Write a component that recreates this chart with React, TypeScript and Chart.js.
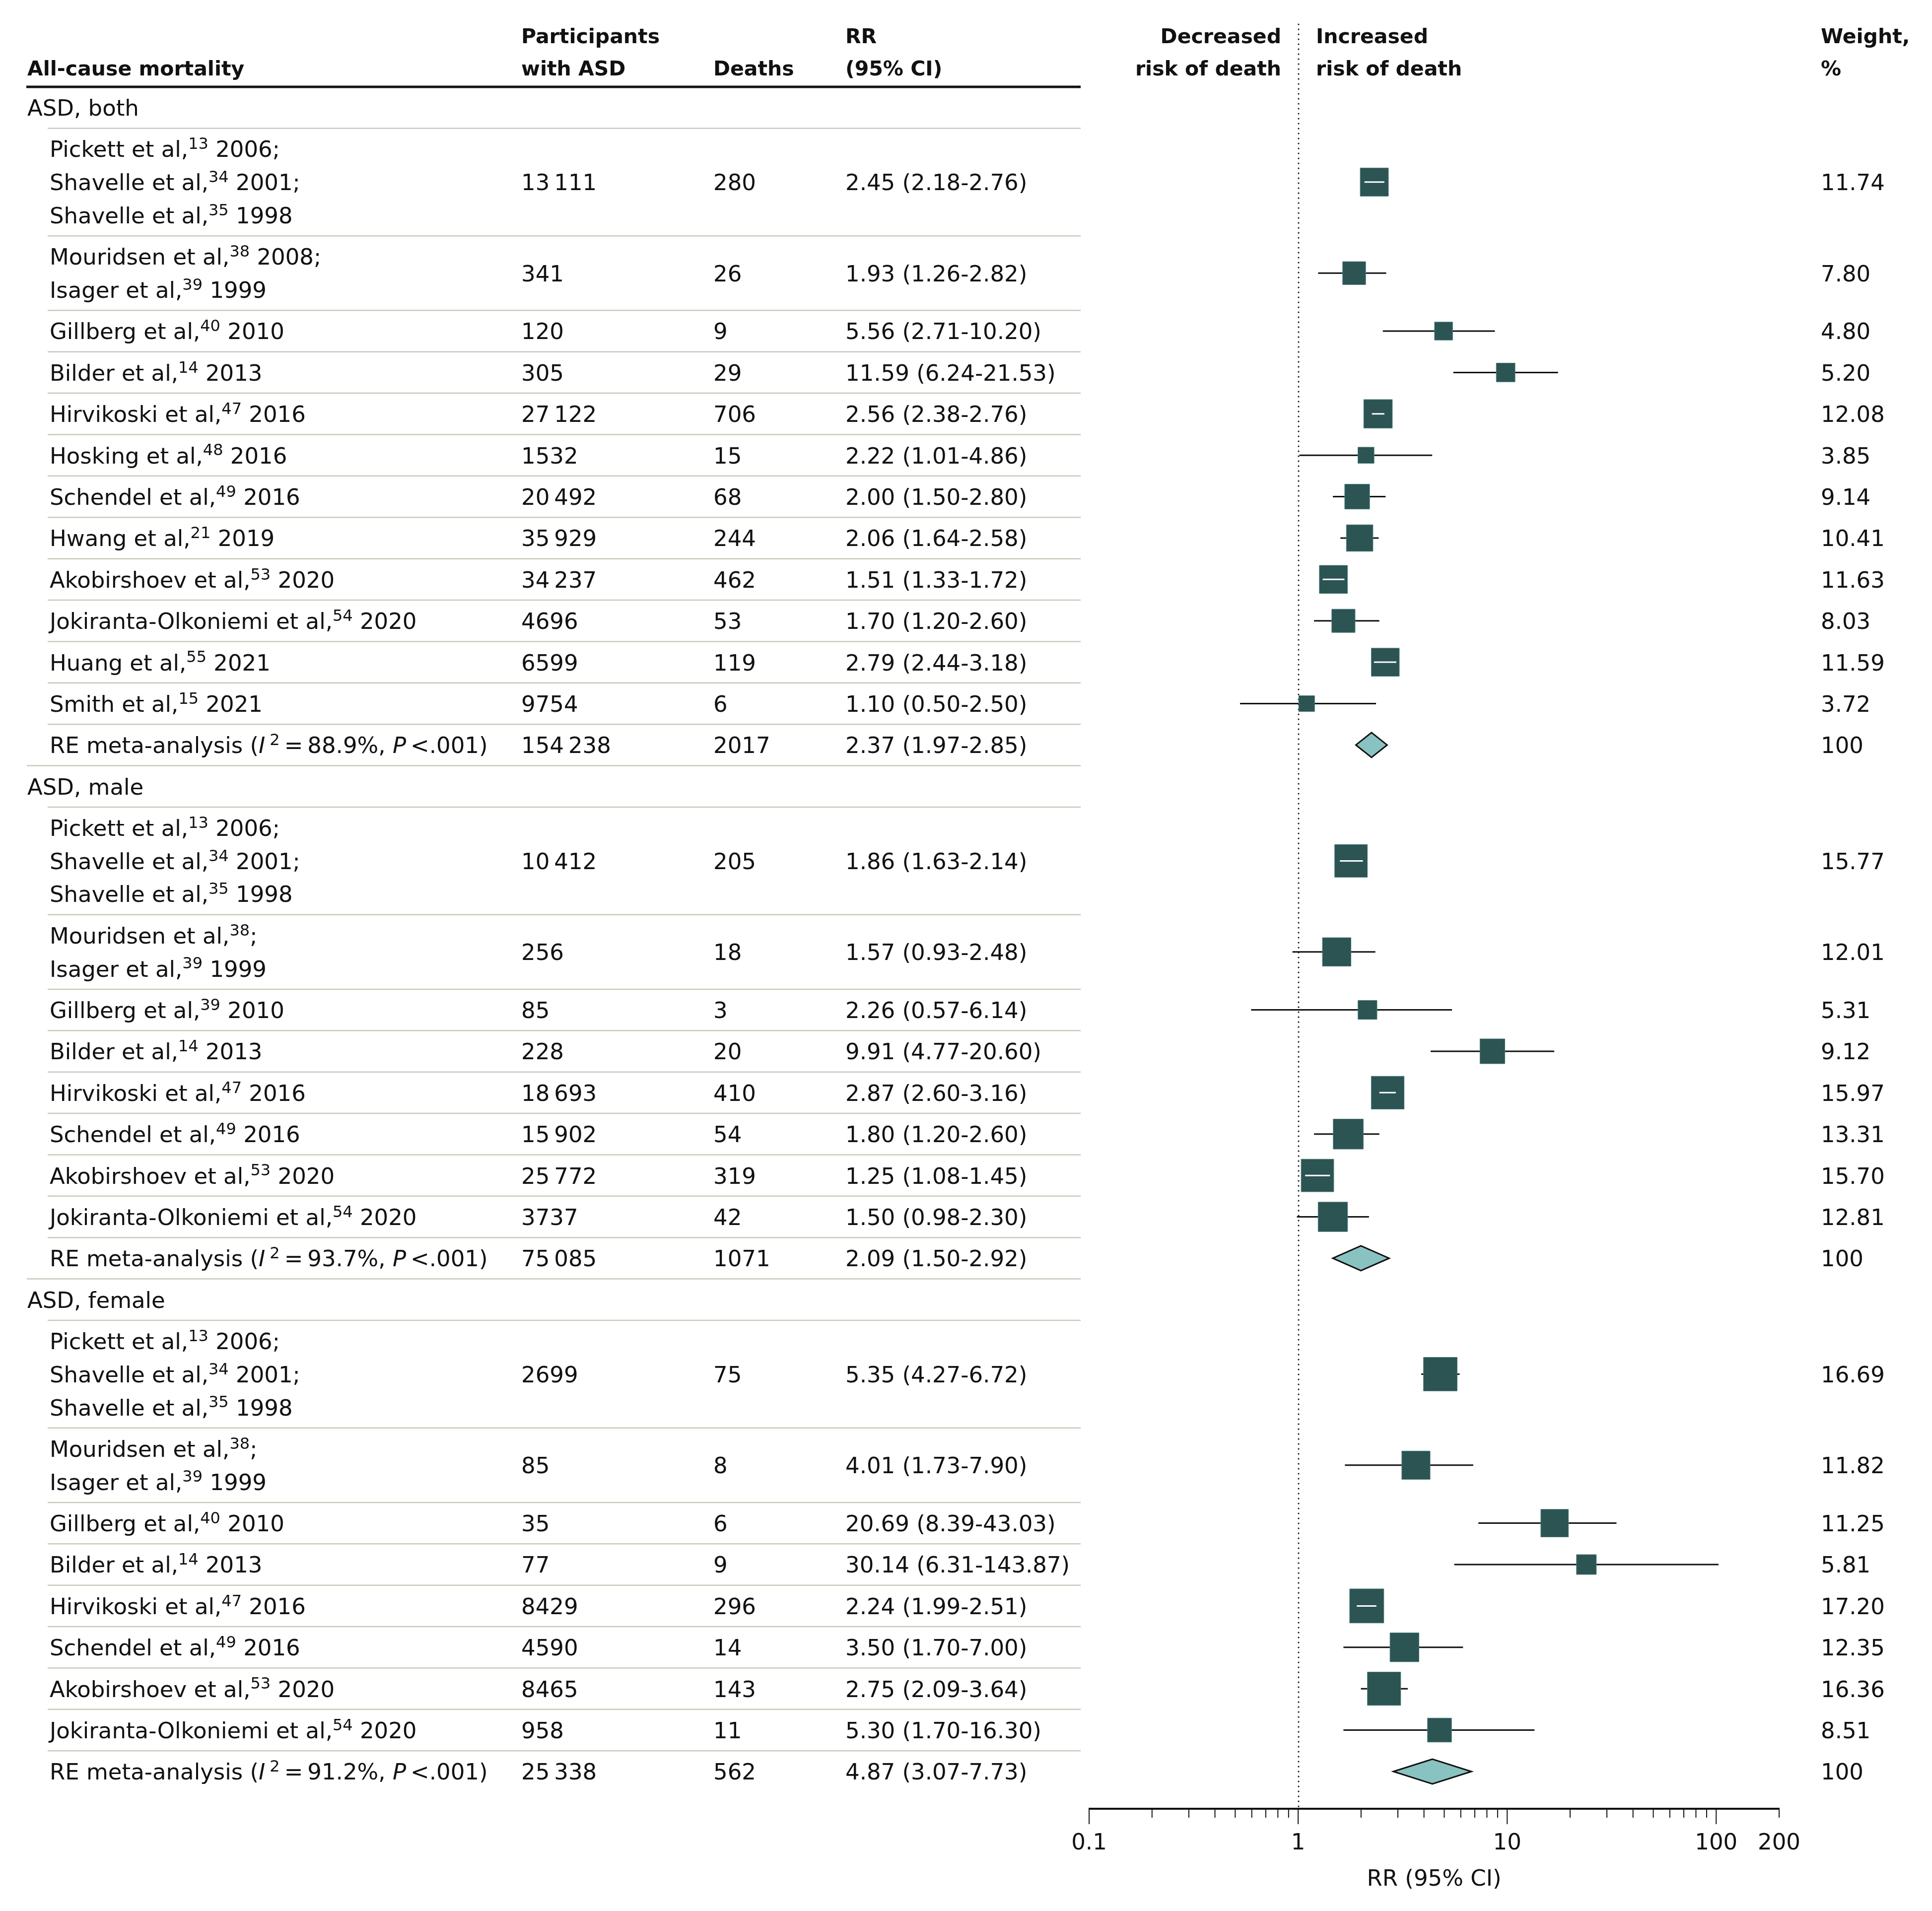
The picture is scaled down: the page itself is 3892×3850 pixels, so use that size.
import React, { useEffect, useRef } from 'react';
import { Chart, registerables } from 'chart.js';

Chart.register(...registerables);

// ---------------- DATA ----------------
const rowKinds: string[] = [
  'group', 'study', 'study', 'study', 'study', 'study', 'study', 'study', 'study', 'study', 'study', 'study', 'study', 'pooled',
  'group', 'study', 'study', 'study', 'study', 'study', 'study', 'study', 'study', 'pooled',
  'group', 'study', 'study', 'study', 'study', 'study', 'study', 'study', 'study', 'pooled',
];

const rowLabels: string[] = [
  'ASD, both',
  'Pickett et al,^13^ 2006;\nShavelle et al,^34^ 2001;\nShavelle et al,^35^ 1998',
  'Mouridsen et al,^38^ 2008;\nIsager et al,^39^ 1999',
  'Gillberg et al,^40^ 2010',
  'Bilder et al,^14^ 2013',
  'Hirvikoski et al,^47^ 2016',
  'Hosking et al,^48^ 2016',
  'Schendel et al,^49^ 2016',
  'Hwang et al,^21^ 2019',
  'Akobirshoev et al,^53^ 2020',
  'Jokiranta-Olkoniemi et al,^54^ 2020',
  'Huang et al,^55^ 2021',
  'Smith et al,^15^ 2021',
  'RE meta-analysis (_I_\u2009^2^\u2009=\u200988.9%, _P_\u2009<.001)',
  'ASD, male',
  'Pickett et al,^13^ 2006;\nShavelle et al,^34^ 2001;\nShavelle et al,^35^ 1998',
  'Mouridsen et al,^38^;\nIsager et al,^39^ 1999',
  'Gillberg et al,^39^ 2010',
  'Bilder et al,^14^ 2013',
  'Hirvikoski et al,^47^ 2016',
  'Schendel et al,^49^ 2016',
  'Akobirshoev et al,^53^ 2020',
  'Jokiranta-Olkoniemi et al,^54^ 2020',
  'RE meta-analysis (_I_\u2009^2^\u2009=\u200993.7%, _P_\u2009<.001)',
  'ASD, female',
  'Pickett et al,^13^ 2006;\nShavelle et al,^34^ 2001;\nShavelle et al,^35^ 1998',
  'Mouridsen et al,^38^;\nIsager et al,^39^ 1999',
  'Gillberg et al,^40^ 2010',
  'Bilder et al,^14^ 2013',
  'Hirvikoski et al,^47^ 2016',
  'Schendel et al,^49^ 2016',
  'Akobirshoev et al,^53^ 2020',
  'Jokiranta-Olkoniemi et al,^54^ 2020',
  'RE meta-analysis (_I_\u2009^2^\u2009=\u200991.2%, _P_\u2009<.001)',
];

const participants: (number | null)[] = [
  null, 13111, 341, 120, 305, 27122, 1532, 20492, 35929, 34237, 4696, 6599, 9754, 154238,
  null, 10412, 256, 85, 228, 18693, 15902, 25772, 3737, 75085,
  null, 2699, 85, 35, 77, 8429, 4590, 8465, 958, 25338,
];

const deaths: (number | null)[] = [
  null, 280, 26, 9, 29, 706, 15, 68, 244, 462, 53, 119, 6, 2017,
  null, 205, 18, 3, 20, 410, 54, 319, 42, 1071,
  null, 75, 8, 6, 9, 296, 14, 143, 11, 562,
];

const rrValues: (number | null)[] = [
  null, 2.45, 1.93, 5.56, 11.59, 2.56, 2.22, 2.0, 2.06, 1.51, 1.7, 2.79, 1.1, 2.37,
  null, 1.86, 1.57, 2.26, 9.91, 2.87, 1.8, 1.25, 1.5, 2.09,
  null, 5.35, 4.01, 20.69, 30.14, 2.24, 3.5, 2.75, 5.3, 4.87,
];

const ciLower: (number | null)[] = [
  null, 2.18, 1.26, 2.71, 6.24, 2.38, 1.01, 1.5, 1.64, 1.33, 1.2, 2.44, 0.5, 1.97,
  null, 1.63, 0.93, 0.57, 4.77, 2.6, 1.2, 1.08, 0.98, 1.5,
  null, 4.27, 1.73, 8.39, 6.31, 1.99, 1.7, 2.09, 1.7, 3.07,
];

const ciUpper: (number | null)[] = [
  null, 2.76, 2.82, 10.2, 21.53, 2.76, 4.86, 2.8, 2.58, 1.72, 2.6, 3.18, 2.5, 2.85,
  null, 2.14, 2.48, 6.14, 20.6, 3.16, 2.6, 1.45, 2.3, 2.92,
  null, 6.72, 7.9, 43.03, 143.87, 2.51, 7.0, 3.64, 16.3, 7.73,
];

const weights: (number | null)[] = [
  null, 11.74, 7.8, 4.8, 5.2, 12.08, 3.85, 9.14, 10.41, 11.63, 8.03, 11.59, 3.72, 100,
  null, 15.77, 12.01, 5.31, 9.12, 15.97, 13.31, 15.7, 12.81, 100,
  null, 16.69, 11.82, 11.25, 5.81, 17.2, 12.35, 16.36, 8.51, 100,
];

const axisTickValues: number[] = [0.1, 1, 10, 100, 200];
const axisTickLabels: string[] = ['0.1', '1', '10', '100', '200'];
const axisTitle = 'RR (95% CI)';

const headerTable = {
  study: ['', 'All-cause mortality'],
  participants: ['Participants', 'with ASD'],
  deaths: ['', 'Deaths'],
  rr: ['RR', '(95% CI)'],
  decreased: ['Decreased', 'risk of death'],
  increased: ['Increased', 'risk of death'],
  weight: ['Weight,', '%'],
};

// ---------------- LAYOUT ----------------
const W = 3892;
const H = 3850;
const FONT = '"DejaVu Sans", "Liberation Sans", sans-serif';
const FS = 45;
const HFS = 41;
const LINE_UNIT = 0.8;
const Y_MAX = 41.6;
const SQUARE_K = 16.6; // px per sqrt(weight)
const DIAMOND_HALF = 25;
const COL = { group: 55, study: 100, participants: 1050, deaths: 1437, rr: 1703, decreased: 2581, increased: 2651, weight: 3668, tableRight: 2177, sepGroup: 54, sepStudy: 96, ruleLeft: 53 };
const HEADER_Y = [-1.235, -0.456];
const DOT_TOP = -1.51;

const TEAL = '#2b5453';
const DIAMOND_FILL = '#88c3c1';
const SEP = '#c8cbbc';
const INK = '#111111';

// row centres (in row units) derived from line counts
const rowUnits = rowLabels.map((l) => 1 + LINE_UNIT * (l.split('\n').length - 1));
const rowCenters: number[] = [];
{
  let acc = 0;
  rowUnits.forEach((u) => {
    rowCenters.push(acc + u / 2);
    acc += u;
  });
}

function fmtInt(n: number | null): string {
  if (n === null) return '';
  const s = String(n);
  if (n < 10000) return s;
  return s.slice(0, s.length - 3) + '\u2009' + s.slice(s.length - 3);
}

function squareSide(w: number): number {
  return SQUARE_K * Math.sqrt(w);
}

type Seg = { t: string; k: 'n' | 'i' | 's' };
function parseRich(s: string): Seg[] {
  const segs: Seg[] = [];
  const re = /(\^[^^]*\^|_[^_]*_)/g;
  let last = 0;
  let m: RegExpExecArray | null;
  while ((m = re.exec(s))) {
    if (m.index > last) segs.push({ t: s.slice(last, m.index), k: 'n' });
    const tok = m[0];
    segs.push({ t: tok.slice(1, -1), k: tok[0] === '^' ? 's' : 'i' });
    last = m.index + tok.length;
  }
  if (last < s.length) segs.push({ t: s.slice(last), k: 'n' });
  return segs;
}

function drawRich(ctx: CanvasRenderingContext2D, s: string, x: number, baseline: number) {
  let cx = x;
  ctx.textAlign = 'left';
  ctx.textBaseline = 'alphabetic';
  for (const seg of parseRich(s)) {
    let dy = 0;
    if (seg.k === 'n') ctx.font = `${FS}px ${FONT}`;
    else if (seg.k === 'i') ctx.font = `italic ${FS}px ${FONT}`;
    else {
      ctx.font = `${Math.round(FS * 0.72)}px ${FONT}`;
      dy = -FS * 0.36;
    }
    ctx.fillText(seg.t, cx, baseline + dy);
    cx += ctx.measureText(seg.t).width;
  }
}

const forestPlugin = {
  id: 'forestTable',
  beforeDatasetsDraw(chart: any) {
    const { ctx, chartArea, scales } = chart;
    const xs = scales.x;
    const xa = scales.xAxis;
    const ys = scales.y;
    const capHalf = FS * 0.729 / 2;
    ctx.save();

    // header
    ctx.fillStyle = INK;
    ctx.font = `bold ${HFS}px ${FONT}`;
    ctx.textBaseline = 'alphabetic';
    const hb = HEADER_Y.map((v) => ys.getPixelForValue(v) + HFS * 0.729 / 2);
    const putHeader = (lines: string[], x: number, align: CanvasTextAlign) => {
      ctx.textAlign = align;
      lines.forEach((t, i) => { if (t) ctx.fillText(t, x, hb[i]); });
    };
    putHeader(headerTable.study, COL.group, 'left');
    putHeader(headerTable.participants, COL.participants, 'left');
    putHeader(headerTable.deaths, COL.deaths, 'left');
    putHeader(headerTable.rr, COL.rr, 'left');
    putHeader(headerTable.decreased, COL.decreased, 'right');
    putHeader(headerTable.increased, COL.increased, 'left');
    putHeader(headerTable.weight, COL.weight, 'left');

    // thick rule
    ctx.strokeStyle = INK;
    ctx.lineWidth = 5;
    ctx.beginPath();
    ctx.moveTo(COL.ruleLeft, chartArea.top);
    ctx.lineTo(COL.tableRight, chartArea.top);
    ctx.stroke();

    // separators
    let acc = 0;
    ctx.strokeStyle = SEP;
    ctx.lineWidth = 2.5;
    rowUnits.forEach((u, i) => {
      acc += u;
      if (i === rowUnits.length - 1) return;
      const y = ys.getPixelForValue(acc);
      const left = rowKinds[i] === 'pooled' ? COL.sepGroup : COL.sepStudy;
      ctx.beginPath();
      ctx.moveTo(left, y);
      ctx.lineTo(COL.tableRight, y);
      ctx.stroke();
    });

    // table text
    ctx.fillStyle = INK;
    rowLabels.forEach((label, i) => {
      const c = rowCenters[i];
      const lines = label.split('\n');
      const x = rowKinds[i] === 'group' ? COL.group : COL.study;
      lines.forEach((ln, j) => {
        const v = c + (j - (lines.length - 1) / 2) * LINE_UNIT;
        drawRich(ctx, ln, x, ys.getPixelForValue(v) + capHalf);
      });
      if (rowKinds[i] === 'group') return;
      const base = ys.getPixelForValue(c) + capHalf;
      ctx.font = `${FS}px ${FONT}`;
      ctx.textAlign = 'left';
      ctx.fillText(fmtInt(participants[i]), COL.participants, base);
      ctx.fillText(String(deaths[i]), COL.deaths, base);
      ctx.fillText(`${rrValues[i]!.toFixed(2)} (${ciLower[i]!.toFixed(2)}-${ciUpper[i]!.toFixed(2)})`, COL.rr, base);
      const w = weights[i]!;
      ctx.fillText(w === 100 ? '100' : w.toFixed(2), COL.weight, base);
    });

    // dotted null line at RR = 1
    const x1 = xs.getPixelForValue(1);
    ctx.strokeStyle = INK;
    ctx.lineWidth = 3.2;
    ctx.lineCap = 'round';
    ctx.setLineDash([0, 10]);
    ctx.beginPath();
    ctx.moveTo(x1, ys.getPixelForValue(DOT_TOP));
    ctx.lineTo(x1, chartArea.bottom - 4);
    ctx.stroke();
    ctx.setLineDash([]);
    ctx.lineCap = 'butt';

    // CI lines (behind squares)
    ctx.strokeStyle = INK;
    ctx.lineWidth = 3;
    rowKinds.forEach((k, i) => {
      if (k !== 'study') return;
      const y = ys.getPixelForValue(rowCenters[i]);
      ctx.beginPath();
      ctx.moveTo(xs.getPixelForValue(ciLower[i]), y);
      ctx.lineTo(xs.getPixelForValue(ciUpper[i]), y);
      ctx.stroke();
    });

    // bottom axis
    const yAx = chartArea.bottom;
    ctx.strokeStyle = INK;
    ctx.lineWidth = 4;
    ctx.beginPath();
    ctx.moveTo(xa.getPixelForValue(axisTickValues[0]) - 1, yAx);
    ctx.lineTo(xa.getPixelForValue(axisTickValues[axisTickValues.length - 1]) + 1, yAx);
    ctx.stroke();
    ctx.lineWidth = 2;
    const minor: number[] = [];
    for (const dec of [0.1, 1, 10]) for (let m = 2; m <= 9; m++) minor.push(dec * m);
    minor.push(200);
    const major = [0.1, 1, 10, 100];
    const tick = (v: number, len: number) => {
      const px = xa.getPixelForValue(v);
      ctx.beginPath();
      ctx.moveTo(px, yAx);
      ctx.lineTo(px, yAx + len);
      ctx.stroke();
    };
    minor.forEach((v) => tick(v, 18));
    major.forEach((v) => tick(v, 31));
    ctx.font = `${FS}px ${FONT}`;
    ctx.textAlign = 'center';
    ctx.fillStyle = INK;
    axisTickValues.forEach((v, i) => {
      ctx.fillText(axisTickLabels[i], xa.getPixelForValue(v), yAx + 66 + capHalf);
    });
    ctx.fillText(axisTitle, (chartArea.left + chartArea.right) / 2, yAx + 139 + capHalf);

    ctx.restore();
  },
  afterDatasetsDraw(chart: any) {
    const { ctx, scales } = chart;
    const xs = scales.x;
    const ys = scales.y;
    ctx.save();
    // white CI where it lies inside the square
    ctx.strokeStyle = '#ffffff';
    ctx.lineWidth = 3;
    rowKinds.forEach((k, i) => {
      if (k !== 'study') return;
      const half = squareSide(weights[i]!) / 2;
      const cx = xs.getPixelForValue(rrValues[i]);
      const l = xs.getPixelForValue(ciLower[i]);
      const r = xs.getPixelForValue(ciUpper[i]);
      if (l >= cx - half && r <= cx + half) {
        const y = ys.getPixelForValue(rowCenters[i]);
        ctx.beginPath();
        ctx.moveTo(l, y);
        ctx.lineTo(r, y);
        ctx.stroke();
      }
    });
    // pooled diamonds
    ctx.fillStyle = DIAMOND_FILL;
    ctx.strokeStyle = INK;
    ctx.lineWidth = 3;
    ctx.lineJoin = 'miter';
    rowKinds.forEach((k, i) => {
      if (k !== 'pooled') return;
      const y = ys.getPixelForValue(rowCenters[i]);
      const l = xs.getPixelForValue(ciLower[i]);
      const r = xs.getPixelForValue(ciUpper[i]);
      const c = xs.getPixelForValue(rrValues[i]);
      ctx.beginPath();
      ctx.moveTo(l, y);
      ctx.lineTo(c, y - DIAMOND_HALF);
      ctx.lineTo(r, y);
      ctx.lineTo(c, y + DIAMOND_HALF);
      ctx.closePath();
      ctx.fill();
      ctx.stroke();
    });
    ctx.restore();
  },
};

export default function App() {
  const ref = useRef<HTMLCanvasElement>(null);
  useEffect(() => {
    document.body.style.margin = '0';
    const squares = rowKinds
      .map((k, i) => (k === 'study' ? { x: rrValues[i] as number, y: rowCenters[i], w: weights[i] as number } : null))
      .filter((p) => p !== null);
    const chart = new Chart(ref.current as HTMLCanvasElement, {
      type: 'scatter',
      data: {
        datasets: [
          {
            data: squares as any,
            pointStyle: 'rect',
            // Chart.js 'rect' draws a square of side 2 * SQRT1_2 * radius
            pointRadius: (c: any) => squareSide(c.raw ? c.raw.w : 1) / (2 * Math.SQRT1_2),
            backgroundColor: TEAL,
            borderColor: '#4f7f7d',
            borderWidth: 1,
            clip: false,
          } as any,
        ],
      },
      options: {
        animation: false,
        responsive: false,
        devicePixelRatio: 1,
        events: [],
        layout: { padding: { left: 2194, right: W - 3584, top: 175, bottom: H - 3644 } },
        scales: {
          x: { type: 'logarithmic', min: 0.08384, max: 294.7, bounds: 'data', display: false },
          xAxis: { type: 'logarithmic', axis: 'x', position: 'bottom', min: 0.1, max: 200, bounds: 'data', display: false },
          y: { type: 'linear', min: 0, max: Y_MAX, reverse: true, bounds: 'data', display: false },
        } as any,
        plugins: { legend: { display: false }, tooltip: { enabled: false } },
      },
      plugins: [forestPlugin as any],
    });
    return () => chart.destroy();
  }, []);
  return (
    <div style={{ position: 'absolute', left: 0, top: 0, width: W, height: H, background: '#ffffff' }}>
      <canvas ref={ref} width={W} height={H} style={{ display: 'block', width: W, height: H }} />
    </div>
  );
}
